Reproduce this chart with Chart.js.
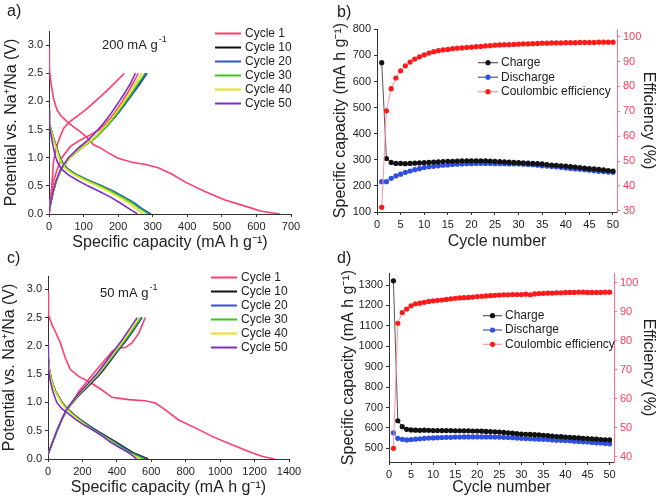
<!DOCTYPE html>
<html>
<head>
<meta charset="utf-8">
<script src="https://cdn.jsdelivr.net/npm/chart.js@4.4.1/dist/chart.umd.min.js"></script>
<style>
  html, body { margin: 0; padding: 0; background: #fff; }
  #wrap { position: relative; width: 661px; height: 500px; overflow: hidden; font-family: "Liberation Sans", Arial, sans-serif; }
  canvas { position: absolute; }
  .tag { position: absolute; font-size: 16px; color: #222; line-height: 1; }
</style>
</head>
<body>
<div id="wrap">
  <canvas id="ca" width="330" height="260" style="left:0;top:0"></canvas>
  <canvas id="cb" width="331" height="260" style="left:330px;top:0"></canvas>
  <canvas id="cc" width="330" height="250" style="left:0;top:250px"></canvas>
  <canvas id="cd" width="331" height="250" style="left:330px;top:250px"></canvas>
  <div class="tag" style="left:7px;top:3px">a)</div>
  <div class="tag" style="left:337px;top:4px">b)</div>
  <div class="tag" style="left:7px;top:250px">c)</div>
  <div class="tag" style="left:337px;top:250px">d)</div>
</div>
<script>
// ---- panel a: 200 mA g-1 voltage profiles ----
const aC1DisCap = [0, 1, 4, 8, 13, 23, 35, 52, 70, 91, 110, 129, 150, 170, 200, 240, 280, 316, 355, 393, 451, 509, 567, 615, 668];
const aC1DisV   = [2.95, 2.6, 2.41, 2.24, 2.05, 1.85, 1.74, 1.64, 1.55, 1.46, 1.36, 1.23, 1.17, 1.09, 0.99, 0.92, 0.88, 0.82, 0.71, 0.57, 0.40, 0.25, 0.14, 0.05, 0.0];
const aC1ChgCap = [0, 3, 8, 13, 20, 28, 42, 60, 80, 110, 148, 181, 218];
const aC1ChgV   = [0.0, 0.12, 0.5, 0.93, 1.15, 1.31, 1.52, 1.64, 1.73, 1.87, 2.08, 2.27, 2.50];

const aDisV = [1.85, 1.6, 1.5, 1.4, 1.3, 1.2, 1.1, 1.0, 0.9, 0.8, 0.7, 0.6, 0.5, 0.4, 0.3, 0.2, 0.1, 0.0];
const aDisC10 = [0, 1, 6, 10.5, 15.5, 21, 26, 32, 40, 54, 78, 112, 150, 185, 215, 243, 265, 292];
const aDisC20 = [0, 1, 6, 10.5, 15.5, 21, 26, 32, 40, 54, 79, 114, 152, 188, 218, 246, 268, 295];
const aDisC30 = [0, 1, 5.5, 10, 15, 20, 25, 31, 39, 52, 76, 110, 147, 182, 212, 240, 262, 288];
const aDisC40 = [0, 1, 5, 9.5, 14, 19, 24, 29, 36, 49, 72, 104, 140, 174, 203, 230, 250, 272];
const aDisC50 = [0, 1, 3, 6, 9, 12, 15.5, 20, 26, 36, 55, 82, 112, 146, 178, 205, 230, 256];

const aChgV = [0.05, 0.2, 0.4, 0.6, 0.8, 1.0, 1.2, 1.3, 1.4, 1.5, 1.6, 1.7, 1.8, 1.9, 2.0, 2.1, 2.2, 2.3, 2.4, 2.5];
const aChgC10 = [0, 5, 12, 22, 36, 59, 97, 121, 140, 156, 172, 187, 200, 213, 225, 237, 249, 260, 271, 282];
const aChgC20 = [0, 5, 12, 22, 36, 60, 98, 122, 141, 157, 173, 188, 201, 214, 226, 238, 250, 262, 273, 284];
const aChgC30 = [0, 5, 12, 22, 36, 60, 100, 124, 143, 158, 173, 187, 199, 211, 222, 234, 245, 256, 267, 278];
const aChgC40 = [0, 5, 12, 22, 36, 60, 98, 120, 138, 153, 168, 182, 194, 206, 217, 228, 239, 249, 259, 268];
const aChgC50 = [0, 5, 12, 21, 34, 56, 90, 110, 127, 142, 156, 169, 181, 192, 203, 214, 224, 234, 242, 250];
const aChgPink = [0, 2.5, 8, 14, 24, 37, 62, 87, 118, 146, 163, 177, 190, 201, 212, 222, 232, 241, 250, 258];

// ---- panel c: 50 mA g-1 voltage profiles ----
const cC1DisCap = [0, 2, 4, 23, 43, 72, 101, 130, 178, 236, 314, 372, 469, 565, 624, 682, 759, 856, 953, 1069, 1185, 1243, 1315];
const cC1DisV   = [2.96, 2.7, 2.55, 2.37, 2.25, 2.05, 1.78, 1.58, 1.46, 1.37, 1.22, 1.09, 1.05, 1.03, 0.99, 0.87, 0.69, 0.55, 0.40, 0.25, 0.11, 0.05, 0.0];
const cC1ChgCap = [0, 43, 101, 139, 178, 275, 372, 401, 449, 488, 527, 565];
const cC1ChgV   = [0.08, 0.43, 0.84, 0.99, 1.19, 1.55, 1.90, 1.96, 1.97, 2.05, 2.22, 2.50];

const cDisV = [2.05, 1.8, 1.6, 1.4, 1.2, 1.0, 0.9, 0.8, 0.7, 0.6, 0.5, 0.4, 0.3, 0.2, 0.1, 0.0];
const cDisC10 = [0, 1, 7, 20, 43, 82, 108, 146, 186, 234, 284, 340, 394, 447, 502, 582];
const cDisC20 = [0, 1, 7, 20, 43, 82, 107, 144, 183, 230, 279, 334, 387, 439, 493, 572];
const cDisC30 = [0, 1, 7, 19, 42, 80, 105, 141, 179, 225, 273, 327, 379, 430, 483, 556];
const cDisC40 = [0, 1, 6, 18, 40, 77, 101, 137, 174, 219, 266, 318, 369, 419, 471, 540];
const cDisC50 = [0, 1, 4, 12, 27, 51, 77, 118, 160, 210, 268, 318, 362, 418, 475, 515];

const cChgV = [0.08, 0.3, 0.5, 0.7, 0.9, 1.1, 1.3, 1.5, 1.7, 1.9, 2.1, 2.3, 2.5];
const cChgC10 = [0, 27, 52, 80, 116, 172, 238, 302, 354, 403, 455, 502, 545];
const cChgC20 = [0, 27, 52, 80, 114, 167, 232, 297, 350, 400, 453, 500, 546];
const cChgC30 = [0, 27, 52, 80, 114, 167, 230, 293, 345, 395, 447, 494, 540];
const cChgC40 = [0, 27, 52, 80, 113, 165, 227, 289, 340, 389, 440, 486, 530];
const cChgC50 = [0, 27, 52, 80, 112, 162, 222, 282, 332, 380, 429, 474, 518];

// ---- panels b / d: cycling ----
const cycles = [1, 2, 3, 4, 5, 6, 7, 8, 9, 10, 11, 12, 13, 14, 15, 16, 17, 18, 19, 20, 21, 22, 23, 24, 25,
  26, 27, 28, 29, 30, 31, 32, 33, 34, 35, 36, 37, 38, 39, 40, 41, 42, 43, 44, 45, 46, 47, 48, 49, 50];

const bCharge = [672, 305, 290, 286, 286, 285, 286, 287, 288, 289, 290, 291, 292, 293, 294, 294, 295, 296, 296, 296,
  296, 296, 296, 295, 294, 293, 292, 291, 290, 289, 288, 287, 286, 285, 284, 282, 280, 279, 277, 276,
  274, 272, 270, 268, 266, 265, 263, 261, 259, 257];
const bDischarge = [216, 216, 229, 238, 245, 252, 257, 262, 266, 270, 273, 275, 277, 279, 280, 282, 283, 284, 285, 285,
  286, 286, 286, 286, 285, 285, 285, 284, 284, 284, 283, 282, 281, 279, 277, 276, 274, 273, 271, 269,
  267, 265, 264, 262, 260, 258, 256, 255, 253, 252];
const bEff = [31.4, 70.2, 79.1, 83.4, 86.3, 88.3, 89.8, 91.0, 91.9, 92.7, 93.4, 94.0, 94.4, 94.7, 94.9, 95.2, 95.4, 95.5, 95.7, 95.8,
  96.0, 96.1, 96.3, 96.4, 96.6, 96.7, 96.8, 96.8, 96.9, 97.0, 97.1, 97.1, 97.2, 97.3, 97.4, 97.4, 97.5, 97.5, 97.5, 97.6,
  97.6, 97.6, 97.7, 97.7, 97.7, 97.7, 97.8, 97.8, 97.8, 97.8];

const dCharge = [1321, 635, 606, 593, 590, 589, 588, 589, 588, 587, 587, 587, 587, 587, 586, 586, 586, 586, 585, 585,
  584, 583, 582, 581, 580, 578, 576, 574, 572, 570, 569, 568, 567, 566, 564, 562, 560, 558, 557, 555,
  554, 552, 551, 549, 548, 546, 545, 543, 542, 541];
const dDischarge = [576, 549, 544, 541, 543, 545, 547, 549, 550, 551, 552, 553, 554, 554, 555, 555, 556, 556, 556, 556,
  556, 556, 556, 555, 555, 554, 553, 552, 550, 549, 548, 547, 546, 545, 544, 543, 541, 540, 539, 538,
  537, 535, 534, 532, 531, 529, 527, 526, 524, 522];
const dEff = [42.9, 86.0, 89.7, 90.9, 92.0, 92.7, 92.9, 93.2, 93.5, 93.7, 93.9, 94.0, 94.2, 94.4, 94.6, 94.7, 94.8, 94.9, 95.0, 95.2,
  95.3, 95.4, 95.5, 95.6, 95.7, 95.8, 95.8, 95.9, 95.9, 95.9, 96.0, 95.8, 96.1, 96.2, 96.3, 96.4, 96.4, 96.5, 96.5, 96.6,
  96.6, 96.6, 96.7, 96.7, 96.6, 96.6, 96.6, 96.6, 96.7, 96.7];

// tick values
const aVTicks = [0, 0.5, 1.0, 1.5, 2.0, 2.5, 3.0];
const aCapTicks = [0, 100, 200, 300, 400, 500, 600, 700];
const cCapTicks = [0, 200, 400, 600, 800, 1000, 1200, 1400];
const cycleTicks = [0, 5, 10, 15, 20, 25, 30, 35, 40, 45, 50];
const bCapTicks = [100, 200, 300, 400, 500, 600, 700, 800];
const bEffTicks = [30, 40, 50, 60, 70, 80, 90, 100];
const dCapTicks = [500, 600, 700, 800, 900, 1000, 1100, 1200, 1300];
const dEffTicks = [40, 50, 60, 70, 80, 90, 100];

const cycleLabels = ['Cycle 1', 'Cycle 10', 'Cycle 20', 'Cycle 30', 'Cycle 40', 'Cycle 50'];
const cycleColors = ['#ff3d6e', '#111111', '#3050d8', '#36c81a', '#e2e21a', '#7a2fc8'];
const seriesLabels = ['Charge', 'Discharge', 'Coulombic efficiency'];

const FONT = '"Liberation Sans", Arial, sans-serif';
Chart.defaults.font.family = FONT;
Chart.defaults.color = '#222';
Chart.defaults.animation = false;
Chart.defaults.devicePixelRatio = 1;

const RED = '#ff3a5c';

function axis({ pos, min, max, ticks, size, title, titlePad, color = '#333', labelColor = '#222', titleColor = '#222', fmt }) {
  return {
    type: 'linear', position: pos, min, max,
    afterBuildTicks: s => { s.ticks = ticks.map(v => ({ value: v })); },
    afterFit: s => { if (s.isHorizontal()) s.height = size; else s.width = size; },
    border: { display: true, color, width: 1 },
    grid: { display: true, drawOnChartArea: false, drawTicks: true, tickLength: 3, color, tickColor: color },
    ticks: { color: labelColor, padding: 3, font: { size: 11 }, autoSkip: false, maxRotation: 0, callback: fmt || (v => v) },
    title: { display: true, text: title, color: titleColor, font: { size: 16 }, padding: titlePad }
  };
}

function curve(caps, volts, color, order) {
  return {
    data: caps.map((c, i) => ({ x: c, y: volts[i] })),
    showLine: true, borderColor: color, borderWidth: 1.6, pointRadius: 0, order
  };
}

function series(vals, lineColor, dotColor, yAxisID, order) {
  return {
    data: cycles.map((c, i) => ({ x: c, y: vals[i] })),
    showLine: true, borderColor: lineColor, borderWidth: 1, yAxisID, order,
    pointRadius: 2.6, pointBackgroundColor: dotColor, pointBorderColor: dotColor, pointBorderWidth: 0
  };
}

// legend + note text drawn on the canvas
function overlay(items, cfg) {
  return {
    afterDraw(chart) {
      const ctx = chart.ctx;
      ctx.save();
      ctx.textBaseline = 'middle';
      ctx.font = `12px ${FONT}`;
      items.forEach((it, i) => {
        const y = cfg.y + i * cfg.dy;
        ctx.strokeStyle = it.line; ctx.lineWidth = cfg.lw;
        ctx.beginPath(); ctx.moveTo(cfg.x, y); ctx.lineTo(cfg.x + cfg.len, y); ctx.stroke();
        if (it.dot) {
          ctx.fillStyle = it.dot;
          ctx.beginPath(); ctx.arc(cfg.x + cfg.len / 2, y, 2.6, 0, Math.PI * 2); ctx.fill();
        }
        ctx.fillStyle = '#222';
        ctx.fillText(it.label, cfg.x + cfg.len + cfg.gap, y);
      });
      if (cfg.note) {
        const [text, sup, nx, ny] = cfg.note;
        ctx.font = `13px ${FONT}`;
        ctx.fillText(text, nx, ny);
        const w = ctx.measureText(text).width;
        ctx.font = `9px ${FONT}`;
        ctx.fillText(sup, nx + w + 1, ny - 5);
      }
      ctx.restore();
    }
  };
}

const vFmt = v => v.toFixed(1);

function profileChart(id, opt) {
  const [c1Dis, c1Chg, dis, chg, extra] = opt.curves;
  const datasets = [
    curve(c1Dis[0], c1Dis[1], cycleColors[0], 6),
    curve(c1Chg[0], c1Chg[1], cycleColors[0], 6)
  ];
  if (extra) datasets.push(curve(extra, chg.v, cycleColors[0], 5));
  for (let k = 0; k < 5; k++) {
    datasets.push(curve(dis.caps[k], dis.v, cycleColors[k + 1], 5 - k));
    datasets.push(curve(chg.caps[k], chg.v, cycleColors[k + 1], 5 - k));
  }
  const legendItems = cycleLabels.map((l, i) => ({ label: l, line: cycleColors[i] }));
  new Chart(document.getElementById(id), {
    type: 'scatter',
    data: { datasets },
    options: {
      responsive: false,
      layout: { padding: opt.pad },
      plugins: { legend: { display: false }, tooltip: { enabled: false } },
      scales: {
        x: axis({ pos: 'bottom', min: 0, max: opt.xMax, ticks: opt.xTicks, size: opt.xSize,
          title: 'Specific capacity (mA h g⁻¹)', titlePad: { top: 0, bottom: opt.xTitlePad } }),
        y: axis({ pos: 'left', min: 0, max: opt.yMax, ticks: aVTicks, size: opt.ySize, fmt: vFmt,
          title: 'Potential vs. Na⁺/Na (V)', titlePad: { top: opt.yTitlePad, bottom: 0 } })
      }
    },
    plugins: [overlay(legendItems, opt.legend)]
  });
}

profileChart('ca', {
  curves: [[aC1DisCap, aC1DisV], [aC1ChgCap, aC1ChgV],
    { v: aDisV, caps: [aDisC10, aDisC20, aDisC30, aDisC40, aDisC50] },
    { v: aChgV, caps: [aChgC10, aChgC20, aChgC30, aChgC40, aChgC50] }, aChgPink],
  pad: { left: 0, top: 31, right: 39, bottom: 0 },
  xMax: 700, xTicks: aCapTicks, xSize: 46, xTitlePad: 7.4,
  yMax: 3.25, ySize: 49, yTitlePad: 2.4,
  legend: { x: 215, y: 33.5, dy: 14, len: 26, gap: 4, lw: 2, note: ['200 mA g', '-1', 102, 45] }
});

profileChart('cc', {
  curves: [[cC1DisCap, cC1DisV], [cC1ChgCap, cC1ChgV],
    { v: cDisV, caps: [cDisC10, cDisC20, cDisC30, cDisC40, cDisC50] },
    { v: cChgV, caps: [cChgC10, cChgC20, cChgC30, cChgC40, cChgC50] }, null],
  pad: { left: 0, top: 26, right: 41, bottom: 0 },
  xMax: 1400, xTicks: cCapTicks, xSize: 41, xTitlePad: 2.4,
  yMax: 3.235, ySize: 48, yTitlePad: 0.4,
  legend: { x: 211, y: 27.5, dy: 14, len: 26, gap: 4, lw: 2, note: ['50 mA g', '-1', 100, 43] }
});

function cyclingChart(id, opt) {
  const legendItems = [
    { label: seriesLabels[0], line: '#555', dot: '#111' },
    { label: seriesLabels[1], line: '#4a5a90', dot: '#2f4fe0' },
    { label: seriesLabels[2], line: '#ff8fa8', dot: '#ff1a1a' }
  ];
  new Chart(document.getElementById(id), {
    type: 'scatter',
    data: {
      datasets: [
        series(opt.charge, '#555', '#111', 'y', 1),
        series(opt.discharge, '#5a6fd0', '#2f4fe0', 'y', 2),
        series(opt.eff, '#ff8fa8', '#ff1a1a', 'y2', 0)
      ]
    },
    options: {
      responsive: false,
      layout: { padding: opt.pad },
      plugins: { legend: { display: false }, tooltip: { enabled: false } },
      scales: {
        x: axis({ pos: 'bottom', min: 0, max: opt.xMax, ticks: cycleTicks, size: opt.xSize,
          title: 'Cycle number', titlePad: { top: 0, bottom: opt.xTitlePad } }),
        y: axis({ pos: 'left', min: opt.yMin, max: opt.yMax, ticks: opt.yTicks, size: opt.ySize,
          title: 'Specific capacity (mA h g⁻¹)', titlePad: { top: opt.yTitlePad, bottom: 0 } }),
        y2: axis({ pos: 'right', min: opt.rMin, max: opt.rMax, ticks: opt.rTicks, size: opt.rSize,
          color: '#ff7090', labelColor: RED,
          title: 'Efficiency (%)', titlePad: { top: 3.4, bottom: 0 } })
      }
    },
    plugins: [overlay(legendItems, opt.legend)]
  });
}

cyclingChart('cb', {
  charge: bCharge, discharge: bDischarge, eff: bEff,
  pad: { left: 0, top: 29, right: 0, bottom: 0 },
  xMax: 50.85, xSize: 48, xTitlePad: 8.4,
  yMin: 100, yMax: 801, yTicks: bCapTicks, ySize: 47, yTitlePad: 0.9,
  rMin: 29.5, rMax: 103.1, rTicks: bEffTicks, rSize: 44,
  legend: { x: 148, y: 62.7, dy: 14.5, len: 20, gap: 3, lw: 1.2 }
});

cyclingChart('cd', {
  charge: dCharge, discharge: dDischarge, eff: dEff,
  pad: { left: 0, top: 23, right: 0, bottom: 0 },
  xMax: 51, xSize: 38, xTitlePad: 2.4,
  yMin: 433, yMax: 1359, yTicks: dCapTicks, ySize: 59, yTitlePad: 9.4,
  rMin: 38.2, rMax: 103.3, rTicks: dEffTicks, rSize: 47,
  legend: { x: 153, y: 65.7, dy: 14.3, len: 19, gap: 3, lw: 1.2 }
});
</script>
</body>
</html>
